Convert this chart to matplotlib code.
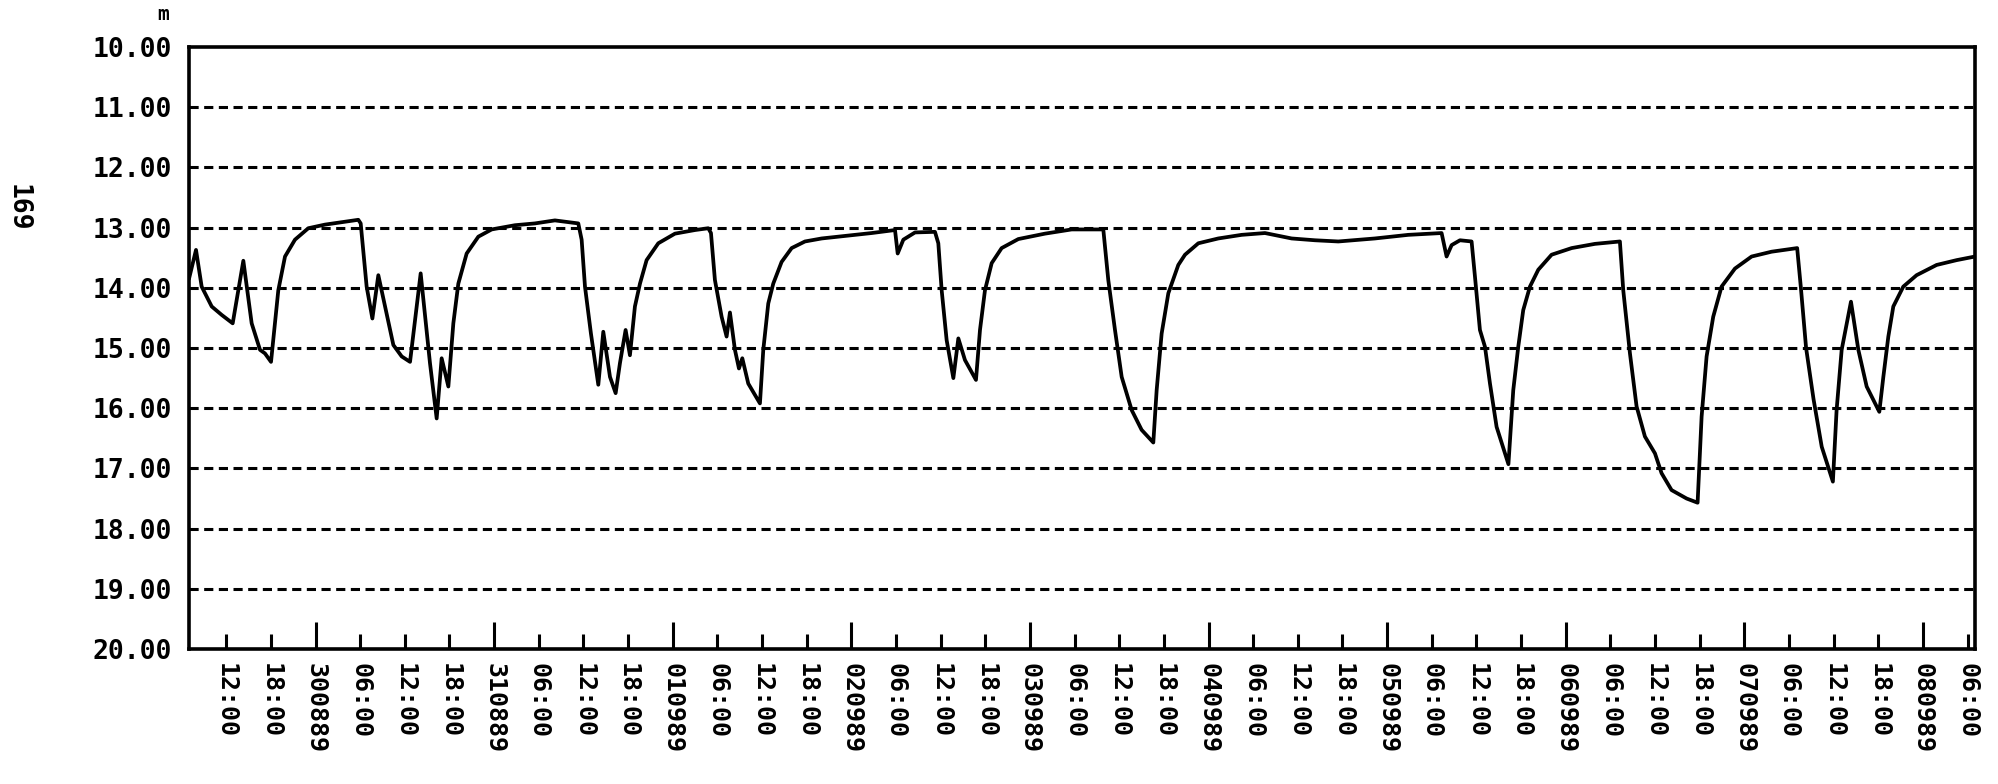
import numpy as np
import pandas as pd
import matplotlib
matplotlib.use("Agg")
import matplotlib.pyplot as plt
import matplotlib.dates as mdates

# ---- data -------------------------------------------------------------
start_time = "1989-08-29 07:00"
end_time = "1989-09-08 07:00"

# hours after start_time
hours = [
    0.0, 0.94, 1.70, 3.05, 4.39, 5.87, 7.30, 8.42, 9.54, 10.21, 11.02,
    12.0, 12.9, 14.24, 16.03, 18.27, 20.52, 22.75, 23.07, 23.87, 24.64,
    25.44, 26.34, 27.46, 28.58, 29.7, 31.13, 32.38, 33.28, 33.95, 34.85,
    35.52, 36.19, 37.31, 38.88, 40.67, 43.8, 46.49, 49.17, 52.31, 52.76,
    53.21, 54.01, 55.0, 55.67, 56.57, 57.33, 57.91, 58.67, 59.25, 59.92,
    60.6, 61.49, 63.06, 65.3, 67.99, 69.78, 70.14, 70.67, 71.57, 72.24,
    72.69, 73.36, 73.9, 74.35, 75.15, 76.72, 77.17, 77.84, 78.51, 79.63,
    80.98, 82.77, 85.01, 89.49, 91.73, 94.87, 95.23, 95.99, 97.56, 100.24,
    100.69, 101.14, 101.81, 102.71, 103.38, 104.27, 105.75, 106.29, 106.96,
    107.86, 109.2, 111.44, 115.02, 118.61, 122.86, 123.53, 124.43, 125.33,
    126.67, 128.01, 129.58, 130.03, 130.7, 131.6, 132.94, 133.84, 135.63,
    138.31, 141.45, 144.58, 148.17, 151.3, 154.44, 159.36, 163.84, 168.32,
    168.99, 169.67, 170.79, 172.35, 172.8, 173.47, 174.15, 174.82, 175.71,
    177.3, 177.95, 178.62, 179.29, 180.19, 181.31, 183.1, 185.79, 188.92,
    192.28, 192.73, 193.63, 194.52, 195.64, 196.99, 197.88, 199.22, 201.24,
    202.72, 203.26, 203.93, 204.82, 205.94, 207.74, 209.98, 212.66, 216.1,
    216.6, 217.3, 218.3, 219.4, 220.9, 221.4, 222.08, 223.33, 224.32,
    225.44, 227.14, 227.68, 228.35, 229.02, 230.36, 232.15, 234.84, 237.53,
    240.0,
]

level_m = [
    13.85, 13.37, 13.98, 14.31, 14.45, 14.59, 13.55, 14.59, 15.03, 15.09, 15.23,
    14.04, 13.48, 13.20, 13.01, 12.95, 12.91, 12.87, 12.93, 13.98, 14.51,
    13.79, 14.31, 14.95, 15.14, 15.23, 13.76, 15.25, 16.17, 15.17, 15.64,
    14.59, 13.93, 13.43, 13.15, 13.03, 12.96, 12.93, 12.88, 12.93, 13.20,
    13.98, 14.76, 15.61, 14.73, 15.48, 15.75, 15.25, 14.70, 15.12, 14.31,
    13.93, 13.54, 13.26, 13.10, 13.04, 13.01, 13.09, 13.87, 14.48, 14.81,
    14.41, 15.03, 15.34, 15.17, 15.59, 15.92, 15.03, 14.26, 13.93, 13.57,
    13.34, 13.23, 13.18, 13.12, 13.09, 13.04, 13.43, 13.20, 13.08, 13.07,
    13.26, 14.04, 14.87, 15.50, 14.84, 15.20, 15.53, 14.70, 14.04,
    13.59, 13.34, 13.19, 13.10, 13.03, 13.03, 13.87, 14.70, 15.48,
    16.03, 16.36, 16.57, 15.70, 14.76, 14.09, 13.62, 13.45, 13.26,
    13.18, 13.12, 13.09, 13.18, 13.21, 13.23, 13.18, 13.12, 13.09,
    13.48, 13.29, 13.21, 13.23, 13.81, 14.70, 14.98, 15.59, 16.31,
    16.93, 15.70, 14.98, 14.37, 13.98, 13.70, 13.45, 13.34, 13.27,
    13.23, 14.04, 15.09, 15.97, 16.47, 16.75, 17.08, 17.36, 17.50,
    17.57, 16.14, 15.14, 14.48, 13.98, 13.68, 13.48, 13.40, 13.34,
    14.0, 15.0, 15.85, 16.64, 17.22, 16.03, 15.03, 14.23, 15.03,
    15.64, 16.06, 15.48, 14.81, 14.31, 13.98, 13.79, 13.62, 13.54,
    13.48,
]

y_ticks = [10, 11, 12, 13, 14, 15, 16, 17, 18, 19, 20]
y_unit = "m"
page_number = "169"

# ---- figure -----------------------------------------------------------
t0 = pd.Timestamp(start_time)
times = t0 + pd.to_timedelta(hours, unit="h")

fig = plt.figure(figsize=(19.98, 7.84), dpi=100)
ax = fig.add_axes([0.0946, 0.1722, 0.8939, 0.7678])

lw = 2.2
ax.plot(times, level_m, color="black", lw=2.7, solid_joinstyle="round",
        solid_capstyle="round", zorder=3)

ax.set_xlim(pd.Timestamp(start_time), pd.Timestamp(end_time))
ax.set_ylim(20, 10)

ax.set_yticks(y_ticks)
ax.yaxis.set_major_formatter(matplotlib.ticker.FormatStrFormatter("%.2f"))
for v in y_ticks[1:-1]:
    ax.axhline(v, color="black", lw=lw, linestyle=(0, (3.0, 1.8)), zorder=2)

mono = {"family": "DejaVu Sans Mono", "weight": "bold"}

ax.tick_params(axis="y", length=0, pad=12, labelsize=19)
for lab in ax.get_yticklabels():
    lab.set_fontfamily("DejaVu Sans Mono")
    lab.set_fontweight("bold")

ax.xaxis.set_major_locator(mdates.DayLocator())
ax.xaxis.set_minor_locator(mdates.HourLocator(byhour=[6, 12, 18]))
ax.xaxis.set_major_formatter(mdates.DateFormatter("%d%m%y"))
ax.xaxis.set_minor_formatter(mdates.DateFormatter("%H:%M"))
ax.tick_params(axis="x", which="major", direction="in", length=19.5,
               width=2.2, pad=10, labelsize=18, labelrotation=-90)
ax.tick_params(axis="x", which="minor", direction="in", length=10.5,
               width=2.2, pad=10, labelsize=18, labelrotation=-90)
for lab in ax.get_xticklabels(which="both"):
    lab.set_fontfamily("DejaVu Sans Mono")
    lab.set_fontweight("bold")
    lab.set_va("top")
    lab.set_ha("center")

for s in ax.spines.values():
    s.set_linewidth(2.6)
    s.set_color("black")

fig.text(0.0816, 0.981, y_unit, ha="center", va="center", fontsize=14, **mono)
fig.text(0.009, 0.735, page_number, ha="center", va="center", fontsize=19,
         rotation=-90, **mono)

fig.savefig("out.png", dpi=100, facecolor="white")
